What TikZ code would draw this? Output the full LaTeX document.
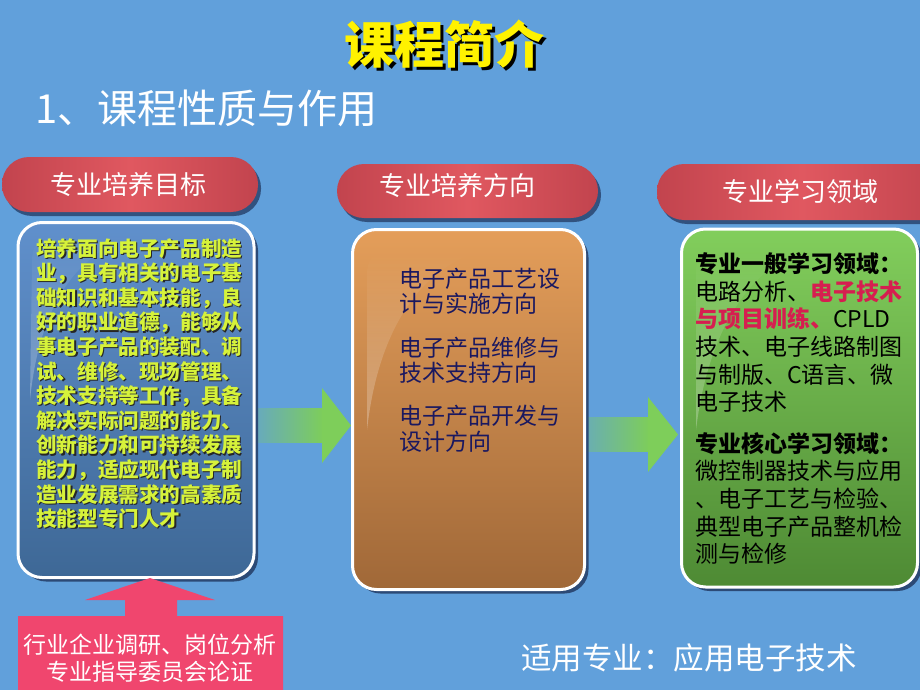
\documentclass[tikz,border=0pt]{standalone}
\usepackage{fontspec}
\setmainfont{Noto Sans CJK SC}
\usetikzlibrary{shadows,fadings}
\definecolor{bg}{RGB}{97,160,219}
\definecolor{shadowc}{RGB}{44,74,118}
\definecolor{pillD}{RGB}{194,68,78}
\definecolor{pillL}{RGB}{224,88,96}
\definecolor{bluet}{RGB}{96,144,204}
\definecolor{blueb}{RGB}{62,104,150}
\definecolor{oranget}{RGB}{228,158,90}
\definecolor{orangeb}{RGB}{160,104,56}
\definecolor{greent}{RGB}{130,206,92}
\definecolor{greenb}{RGB}{78,138,52}
\definecolor{arrowg}{RGB}{126,206,90}
\definecolor{pinkc}{RGB}{240,70,110}
\definecolor{goalc}{RGB}{214,242,58}
\definecolor{navyc}{RGB}{26,24,96}
\definecolor{redt}{RGB}{214,30,80}
\tikzfading[name=shaftfade, left color=transparent!85, right color=transparent!0]
\tikzset{
  card/.style={draw=white, line width=3pt, rounded corners=24pt, inner sep=0pt,
    drop shadow={shadow xshift=4pt, shadow yshift=-4pt, fill=shadowc, opacity=1}},
  pill/.style={rounded corners=27pt, inner sep=0pt, left color=pillD, right color=pillD, middle color=pillL,
    drop shadow={shadow xshift=3pt, shadow yshift=-4pt, fill=shadowc, opacity=0.9}},
  pilltext/.style={text=white, font=\fontsize{26}{28}\selectfont, inner sep=0pt},
  gloss/.style={fill=white, fill opacity=0.28, path fading=north},
  block/.style={inner sep=0pt, align=left, anchor=north west}
}
\newcommand\goaltext{培养面向电子产品制造\\业，具有相关的电子基\\础知识和基本技能，良\\好的职业道德，能够从\\事电子产品的装配、调\\试、维修、现场管理、\\技术支持等工作，具备\\解决实际问题的能力、\\创新能力和可持续发展\\能力，适应现代电子制\\造业发展需求的高素质\\技能型专门人才}
\newcommand\shadowed[2]{\makebox[0pt][l]{\hspace{3pt}\raisebox{-3pt}{\color{#1}#2}}#2}
\begin{document}
\begin{tikzpicture}[x=1pt,y=-1pt]
\clip (0,0) rectangle (920,690);
\fill[bg] (0,0) rectangle (920,690);

% titles
\node[text=yellow, font=\fontsize{50}{52}\selectfont\bfseries] (title) at (444,46) {\shadowed{black}{课程简介}};
\node[text=white, font=\fontsize{40}{42}\selectfont, anchor=west, inner sep=0pt] (sub) at (35,108) {1、课程性质与作用};

% green arrows
\fill[arrowg, path fading=shaftfade] (250,408) rectangle (323,443);
\fill[arrowg] (322,388) -- (351,425.5) -- (322,463) -- cycle;
\fill[arrowg, path fading=shaftfade] (572,417) rectangle (649,452);
\fill[arrowg] (648,397) -- (678,434.5) -- (648,472) -- cycle;

% cards
\node[card, top color=bluet, bottom color=blueb, minimum width=236pt, minimum height=355pt] (b1) at (136,400) {};
\node[card, top color=oranget, bottom color=orangeb, minimum width=232pt, minimum height=360pt] (b2) at (468.5,409.5) {};
\node[card, top color=greent, bottom color=greenb, minimum width=236pt, minimum height=358pt] (b3) at (799.5,408) {};

% gloss highlights
\fill[gloss] (32,262) .. controls (32,245) and (38,238) .. (55,236) -- (140,234) .. controls (80,250) and (40,300) .. (30,400) -- cycle;
\fill[gloss] (367,275) .. controls (367,258) and (374,252) .. (390,252) -- (478,252) .. controls (420,270) and (378,330) .. (367,430) -- cycle;
\fill[gloss] (696,272) .. controls (696,256) and (703,250) .. (718,250) -- (805,250) .. controls (750,268) and (708,330) .. (696,430) -- cycle;

% pills
\node[pill, minimum width=256pt, minimum height=55pt] (p1) at (130,184.5) {};
\node[pill, minimum width=261pt, minimum height=54pt] (p2) at (467.5,191) {};
\node[pill, minimum width=290pt, minimum height=56pt] (p3) at (802,192) {};
\node[pilltext] (t1) at (128.5,185) {专业培养目标};
\node[pilltext] (t2) at (457.5,186) {专业培养方向};
\node[pilltext] (t3) at (800,192) {专业学习领域};

% box 1 text
\node[block, text=black!85, font=\fontsize{20.6}{24.6}\selectfont\bfseries] (g1s) at (37.3,239.2) {\goaltext};
\node[block, text=goalc, font=\fontsize{20.6}{24.6}\selectfont\bfseries] (g1) at (36,238) {\goaltext};

% box 2 text
\node[block, text=navyc, font=\fontsize{23}{25.6}\selectfont] (d1) at (399,267.6) {电子产品工艺设\\计与实施方向\\[18pt]电子产品维修与\\技术支持方向\\[17pt]电子产品开发与\\设计方向};

% box 3 text
\node[block, text=black, font=\fontsize{23}{27.6}\selectfont] (f1) at (695,252.6) {\textbf{专业一般学习领域：}\\电路分析、\textbf{\textcolor{redt}{电子技术}}\\\textbf{\textcolor{redt}{与项目训练、}}CPLD\\技术、电子线路制图\\与制版、C语言、微\\电子技术\\[14pt]\textbf{专业核心学习领域：}\\微控制器技术与应用\\、电子工艺与检验、\\典型电子产品整机检\\测与检修};

% pink arrow box
\fill[pinkc] (150,578) -- (215,600) -- (177,600) -- (177,616) -- (283,616) -- (283,695) -- (18,695) -- (18,616) -- (125,616) -- (125,600) -- (85,600) -- cycle;
\node[text=white, font=\fontsize{23}{27}\selectfont, inner sep=0pt] (k1) at (150,645) {行业企业调研、岗位分析};
\node[text=white, font=\fontsize{23}{27}\selectfont, inner sep=0pt] (k2) at (150,672) {专业指导委员会论证};

% footer
\node[text=white, font=\fontsize{30.5}{32}\selectfont, inner sep=0pt] (foot) at (689,658) {适用专业：应用电子技术};
\end{tikzpicture}
\end{document}
